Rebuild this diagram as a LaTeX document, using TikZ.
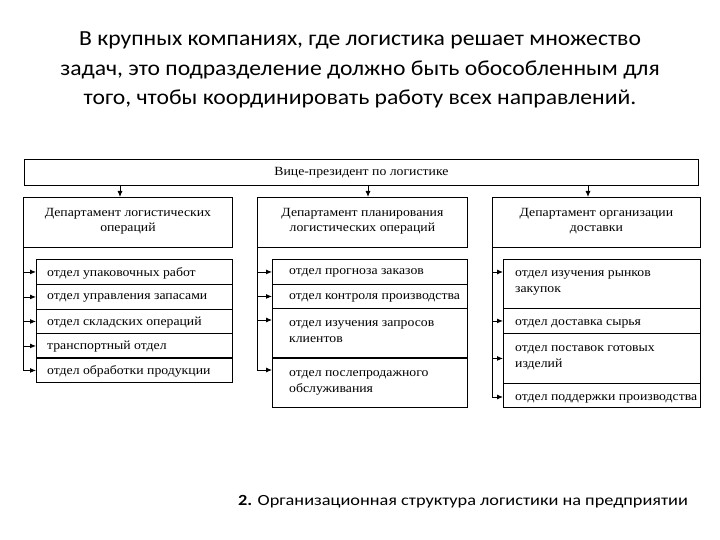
\documentclass[tikz,border=0pt]{standalone}
\usepackage{fontspec}
\setmainfont{Liberation Serif}[FakeStretch=1.1]
\newfontfamily\calfont{Carlito}[FakeStretch=1.1]
\newfontfamily\capfont{Carlito}[FakeStretch=1.18]
\usetikzlibrary{arrows.meta,calc}
\tikzset{
  box/.style={draw, line width=0.9pt, rectangle, inner sep=0pt, anchor=north west},
  txt/.style={font=\fontsize{12.5}{16}\selectfont, inner sep=0pt, align=left},
  ctxt/.style={font=\fontsize{12.5}{15}\selectfont, inner sep=0pt, align=center},
  arr/.style={line width=0.9pt, -{Latex[length=6pt,width=5pt]}},
  ln/.style={line width=0.9pt},
  thk/.style={line width=2pt}
}
\begin{document}
\begin{tikzpicture}[x=1pt,y=-1pt]
\useasboundingbox (0,0) rectangle (720,540);
% title
\node[font=\calfont\fontsize{21.5}{29.5}\selectfont, align=center, anchor=base] (title) at (360,105)
  {В крупных компаниях, где логистика решает множество\\задач, это подразделение должно быть обособленным для\\того, чтобы координировать работу всех направлений.};
% top box
\node[box, minimum width=674pt, minimum height=26pt, font=\fontsize{12.5}{15}\selectfont] (vp) at (24,159) {Вице-президент по логистике};
% departments
\node[box, minimum width=209pt, minimum height=50pt] (d1) at (23,197) {};
\node[box, minimum width=210pt, minimum height=50pt] (d2) at (257,197) {};
\node[box, minimum width=208pt, minimum height=50pt] (d3) at (492,197) {};
\node[ctxt] (d1t) at ($(d1.north)+(0,24)$) {Департамент логистических\\операций};
\node[ctxt] (d2t) at ($(d2.north)+(0,24)$) {Департамент планирования\\логистических операций};
\node[ctxt] (d3t) at ($(d3.north)+(0,24)$) {Департамент организации\\доставки};
% arrows from VP
\coordinate (a1) at ($(d1.north west)+(97,0)$);
\coordinate (a2) at ($(d2.north west)+(111,0)$);
\coordinate (a3) at ($(d3.north west)+(96,0)$);
\draw[arr] (vp.south -| a1) -- (a1);
\draw[arr] (vp.south -| a2) -- (a2);
\draw[arr] (vp.south -| a3) -- (a3);
% left column
\node[box, minimum width=196pt, minimum height=25pt] (l1) at (36,259) {};
\node[box, minimum width=196pt, minimum height=25pt] (l2) at (36,284) {};
\node[box, minimum width=196pt, minimum height=24pt] (l3) at (36,309) {};
\node[box, minimum width=196pt, minimum height=25pt] (l4) at (36,333) {};
\node[box, minimum width=196pt, minimum height=24pt] (l5) at (36,358) {};
\draw[thk] (l5.north west) -- (l5.north east);
\node[txt, anchor=west] (l1t) at ($(l1.west)+(11,1)$) {отдел упаковочных работ};
\node[txt, anchor=west] (l2t) at ($(l2.west)+(11,1)$) {отдел управления запасами};
\node[txt, anchor=west] (l3t) at ($(l3.west)+(11,1)$) {отдел складских операций};
\node[txt, anchor=west] (l4t) at ($(l4.west)+(11,1)$) {транспортный отдел};
\node[txt, anchor=west] (l5t) at ($(l5.west)+(11,1)$) {отдел обработки продукции};
\draw[ln] (d1.south west) -- (d1.south west |- l5.west);
\foreach \n in {l1,l2,l3,l4,l5} \draw[arr] (d1.south west |- \n.west) -- (\n.west);
% middle column
\node[box, minimum width=195pt, minimum height=25pt] (m1) at (272,259) {};
\node[box, minimum width=195pt, minimum height=24pt] (m2) at (272,284) {};
\node[box, minimum width=195pt, minimum height=50pt] (m3) at (272,308) {};
\node[box, minimum width=195pt, minimum height=49pt] (m4) at (272,358) {};
\draw[thk] (m4.north west) -- (m4.north east);
\node[txt, anchor=west] (m1t) at ($(m1.west)+(17,1)$) {отдел прогноза заказов};
\node[txt, anchor=west] (m2t) at ($(m2.west)+(17,1)$) {отдел контроля производства};
\node[txt, anchor=north west] (m3t) at ($(m3.north west)+(17,12)$) {отдел изучения запросов\\клиентов};
\node[txt, anchor=north west] (m4t) at ($(m4.north west)+(17,12)$) {отдел послепродажного\\обслуживания};
\coordinate (m3a) at ($(m3.north west)+(0,12)$);
\coordinate (m4a) at ($(m4.north west)+(0,12)$);
\draw[ln] (d2.south west) -- (d2.south west |- m4a);
\draw[arr] (d2.south west |- m1.west) -- (m1.west);
\draw[arr] (d2.south west |- m2.west) -- (m2.west);
\draw[arr] (d2.south west |- m3a) -- (m3a);
\draw[arr] (d2.south west |- m4a) -- (m4a);
% right column
\node[box, minimum width=197pt, minimum height=49pt] (r1) at (503,259) {};
\node[box, minimum width=197pt, minimum height=25pt] (r2) at (503,308) {};
\node[box, minimum width=197pt, minimum height=50pt] (r3) at (503,333) {};
\node[box, minimum width=197pt, minimum height=24pt] (r4) at (503,383) {};
\node[txt, anchor=north west] (r1t) at ($(r1.north west)+(12,11)$) {отдел изучения рынков\\закупок};
\node[txt, anchor=west] (r2t) at ($(r2.west)+(12,3)$) {отдел доставка сырья};
\node[txt, anchor=north west] (r3t) at ($(r3.north west)+(12,12)$) {отдел поставок готовых\\изделий};
\node[txt, anchor=west] (r4t) at ($(r4.west)+(12,3)$) {отдел поддержки производства};
\coordinate (r1a) at ($(r1.north west)+(0,13)$);
\coordinate (r4a) at ($(r4.north west)+(0,14)$);
\draw[ln] (d3.south west) -- (d3.south west |- r4a);
\draw[arr] (d3.south west |- r1a) -- (r1a);
\draw[arr] (d3.south west |- r2.west) -- (r2.west);
\draw[arr] (d3.south west |- r3.west) -- (r3.west);
\draw[arr] (d3.south west |- r4a) -- (r4a);
% caption
\node[font=\capfont\fontsize{15.5}{20}\selectfont, anchor=base] (cap) at (463,505) {\textbf{2.} Организационная структура логистики на предприятии};
\end{tikzpicture}
\end{document}
